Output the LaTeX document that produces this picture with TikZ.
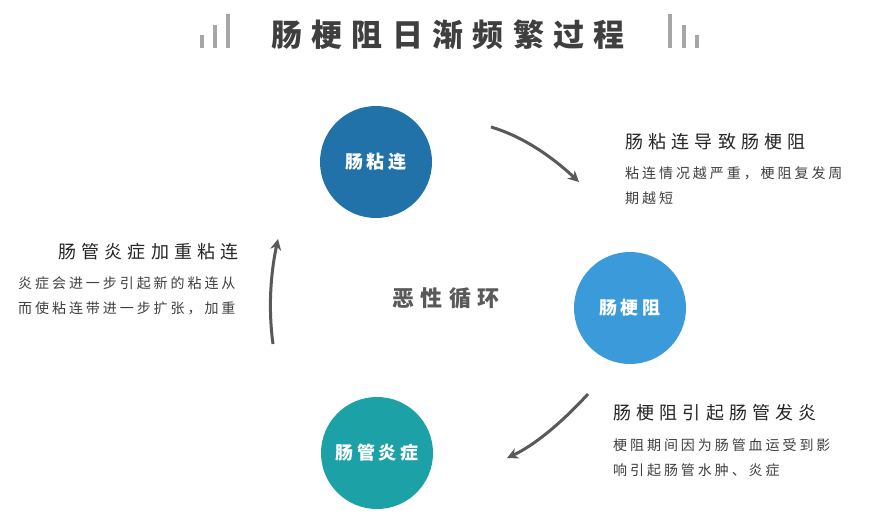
\documentclass[tikz,border=0pt]{standalone}
\usepackage{fontspec}
\usetikzlibrary{arrows.meta}
\newfontfamily\titlefont[LetterSpace=30]{Noto Sans CJK SC}
\newfontfamily\headfont[LetterSpace=29]{Noto Sans CJK SC}
\newfontfamily\bodyfont[LetterSpace=21]{Noto Sans CJK SC}
\newfontfamily\circfont[LetterSpace=22]{Noto Sans CJK SC}
\definecolor{titlec}{HTML}{3F3F3F}
\definecolor{headc}{HTML}{262626}
\definecolor{bodyc}{HTML}{404040}
\definecolor{barc}{HTML}{A6A6A6}
\definecolor{arrc}{HTML}{595959}
\definecolor{c1}{HTML}{2272AA}
\definecolor{c2}{HTML}{3A9ADA}
\definecolor{c3}{HTML}{1CA1A6}
\tikzset{
  circ/.style={circle, minimum size=112pt, inner sep=0, text=white, font=\circfont\bfseries\fontsize{18}{18}\selectfont},
  head/.style={inner sep=0, text=headc, font=\headfont\fontsize{18}{18}\selectfont},
  body/.style={inner sep=0, text=bodyc, font=\bodyfont\fontsize{14}{14}\selectfont},
  bar/.style={barc, line width=4pt},
  cyc/.style={arrc, line width=3pt, -{Stealth[length=11pt,width=11pt]}}
}
\begin{document}
\begin{tikzpicture}[x=1pt,y=-1pt]
\useasboundingbox[fill=white] (0,0) rectangle (869,520);
% title
\node[inner sep=0, text=titlec, font=\titlefont\bfseries\fontsize{31}{31}\selectfont] (title) at (448,35) {肠梗阻日渐频繁过程};
\draw[bar] (202,35) -- (202,48);
\draw[bar] (215,25) -- (215,48);
\draw[bar] (228,14) -- (228,48);
\draw[bar] (670,14) -- (670,48);
\draw[bar] (684,25) -- (684,48);
\draw[bar] (697,35) -- (697,48);
% circles
\node[circ, fill=c1] (nl) at (376,162) {肠粘连};
\node[circ, fill=c2] (gz) at (630,308) {肠梗阻};
\node[circ, fill=c3] (yz) at (377,453) {肠管炎症};
% center text
\node[inner sep=0, text=arrc, font=\headfont\bfseries\fontsize{22}{22}\selectfont] (ex) at (446,298) {恶性循环};
% arrows
\coordinate (a1s) at (491,127);
\coordinate (a1e) at (579,182);
\coordinate (a2s) at (588,394);
\coordinate (a2e) at (507,458);
\coordinate (a3s) at (273,344);
\coordinate (a3e) at (278,239);
\draw[cyc] (a1s) .. controls (520,135.5) and (549,154) .. (a1e);
\draw[cyc] (a2s) .. controls (560,424.5) and (533,446) .. (a2e);
\draw[cyc] (a3s) .. controls (268.5,311) and (270,276.5) .. (a3e);
% texts top right
\node[head, anchor=west] (h1) at (625,142) {肠粘连导致肠梗阻};
\node[body, anchor=west] (b1a) at (625,173) {粘连情况越严重，梗阻复发周};
\node[body, anchor=west] (b1b) at (625,198) {期越短};
% texts bottom right
\node[head, anchor=west] (h2) at (613,413) {肠梗阻引起肠管发炎};
\node[body, anchor=west] (b2a) at (613,445) {梗阻期间因为肠管血运受到影};
\node[body, anchor=west] (b2b) at (613,470) {响引起肠管水肿、炎症};
% texts left
\node[head, anchor=east] (h3) at (239,252) {肠管炎症加重粘连};
\node[body, anchor=west] (b3a) at (18,283) {炎症会进一步引起新的粘连从};
\node[body, anchor=west] (b3b) at (18,308) {而使粘连带进一步扩张，加重};
\end{tikzpicture}
\end{document}
